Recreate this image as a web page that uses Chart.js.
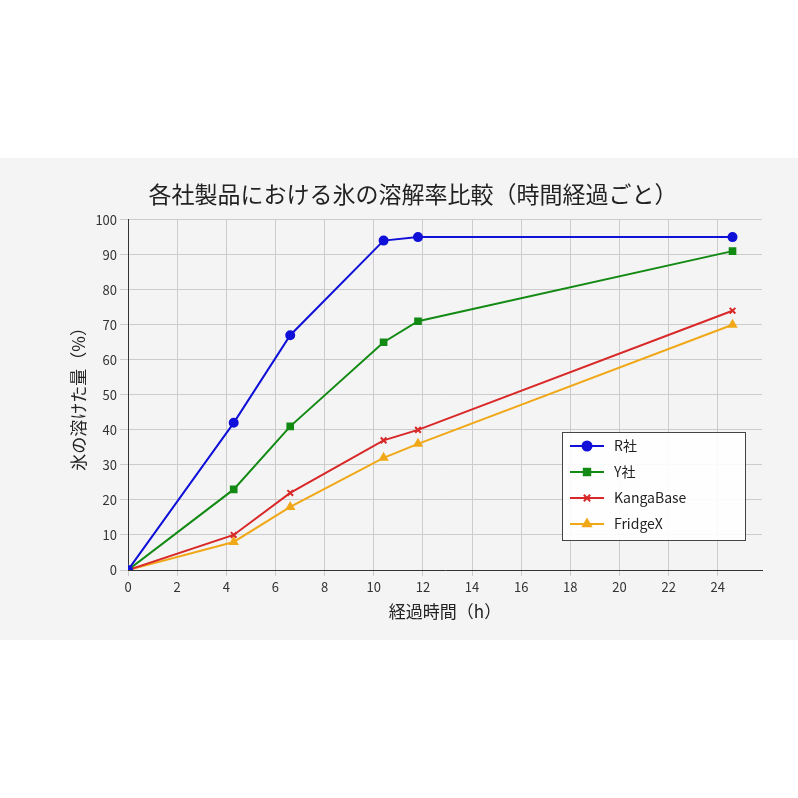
<!DOCTYPE html><html><head><meta charset="utf-8">
<script src="https://cdn.jsdelivr.net/npm/chart.js@4"></script>
<style>body{margin:0;background:#fff;width:798px;height:798px;position:relative}
#w{position:absolute;left:0;top:158px;width:798px;height:482px;background:#f4f4f4}</style></head><body>
<div id="w"><canvas id="c" width="798" height="482"></canvas></div>
<script>
const xs=[0,4.3,6.6,10.4,11.8,24.6];
const rSha=[0,42,67,94,95,95];
const ySha=[0,23,41,65,71,91];
const kanga=[0,10,22,37,40,74];
const fridge=[0,8,18,32,36,70];
const names=['R社','Y社','KangaBase','FridgeX'];
const cols=['#1010d8','#138a13','#d82828','#f0a818'];
const styles=['circle','rect','crossRot','triangle'];
const series=[rSha,ySha,kanga,fridge];
const F='"Noto Sans CJK JP","Noto Sans",sans-serif';
const legendBox={id:'legendBox',afterDraw(ch){
  const c=ch.ctx,x0=562,y0=432-158,w=183,h=108;
  c.save();c.fillStyle='rgba(255,255,255,0.9)';c.strokeStyle='#444';c.lineWidth=1;
  c.fillRect(x0,y0,w,h);c.strokeRect(x0+0.5,y0+0.5,w,h);
  ch.data.datasets.forEach((d,i)=>{const y=y0+14+i*26;
    c.strokeStyle=d.borderColor;c.lineWidth=2;c.beginPath();c.moveTo(x0+8,y);c.lineTo(x0+42,y);c.stroke();
    c.fillStyle=d.backgroundColor;Chart.helpers.drawPoint(c,{pointStyle:d.pointStyle,radius:4.5,borderWidth:2},x0+25,y);
    c.fillStyle='#222';c.font='14px '+F;c.textBaseline='middle';c.fillText(d.label,x0+52,y);});
  c.restore();}};
new Chart(document.getElementById('c'),{type:'line',
data:{datasets:series.map((s,i)=>({label:names[i],data:s.map((v,j)=>({x:xs[j],y:v})),borderColor:cols[i],backgroundColor:cols[i],pointStyle:styles[i],pointRadius:4,borderWidth:2,tension:0}))},
options:{responsive:false,animation:false,
layout:{padding:{left:64,right:36,top:12,bottom:14}},
plugins:{title:{display:true,text:'各社製品における氷の溶解率比較（時間経過ごと）',font:{family:F,size:23,weight:'normal'},color:'#222',padding:{top:10,bottom:12}},
legend:{display:false}},
scales:{x:{type:'linear',min:0,max:25.8,afterBuildTicks:a=>{a.ticks=[0,2,4,6,8,10,12,14,16,18,20,22,24].map(v=>({value:v}))},
ticks:{font:{family:F,size:13},color:'#333'},grid:{color:'#ccc',tickLength:6},border:{color:'#333'},
title:{display:true,text:'経過時間（h）',font:{family:F,size:17},color:'#222'}},
y:{min:0,max:100,ticks:{stepSize:10,font:{family:F,size:13},color:'#333'},grid:{color:'#ccc'},border:{color:'#333'},
title:{display:true,text:'氷の溶けた量（%）',font:{family:F,size:17},color:'#222'}}}}, plugins:[legendBox]});
</script></body></html>
